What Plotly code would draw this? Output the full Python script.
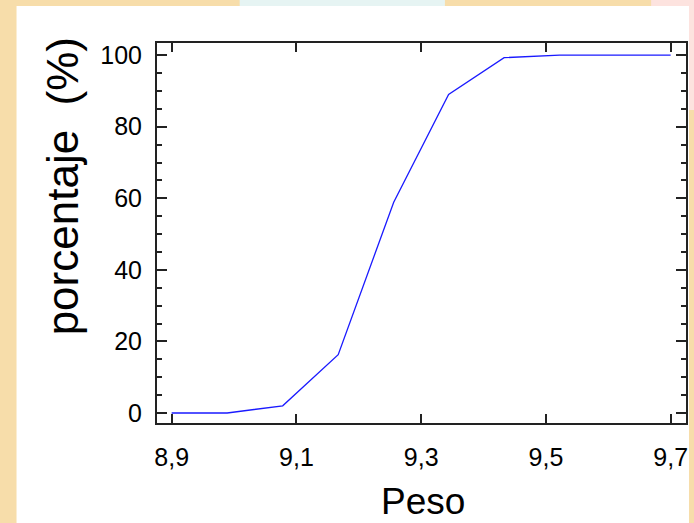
import plotly.graph_objects as go

# Data
peso = [8.9, 8.989, 9.078, 9.167, 9.256, 9.344, 9.433, 9.522, 9.611, 9.7]
porcentaje = [0, 0, 2.0, 16.3, 58.9, 89.0, 99.3, 100, 100, 100]
x_ticks = [8.9, 9.1, 9.3, 9.5, 9.7]
y_ticks = [0, 20, 40, 60, 80, 100]

REG = "Liberation Sans, Arial, sans-serif"

fig = go.Figure()
fig.add_trace(go.Scatter(x=peso, y=porcentaje, mode="lines",
                         line=dict(color="#1a1aff", width=1.3), showlegend=False,
                         hoverinfo="skip"))

L, R, T, B = 157, 688, 43, 423
W, H = 694, 523

def px2x(px):
    return (px - L) / (R - L)

def py2y(py):
    return (B - py) / (B - T)

shapes = [
    dict(type="rect", xref="paper", yref="paper", x0=px2x(240), x1=px2x(446), y0=py2y(6), y1=py2y(-2),
         fillcolor="#E6F4F3", line=dict(width=0), layer="below"),
    dict(type="rect", xref="paper", yref="paper", x0=px2x(653), x1=px2x(700), y0=py2y(110), y1=py2y(-2),
         fillcolor="#FDE3DF", line=dict(width=0), layer="below"),
    dict(type="rect", xref="paper", yref="paper", x0=px2x(16), x1=px2x(691), y0=py2y(530), y1=py2y(6),
         fillcolor="white", line=dict(width=0), layer="below"),
]

fig.update_layout(
    width=W, height=H,
    margin=dict(l=L, r=W - R, t=T, b=H - B),
    paper_bgcolor="#F7DDAA",
    plot_bgcolor="white",
    separators=",.",
    shapes=shapes,
    annotations=[
        dict(text="porcentaje  (%)", xref="paper", yref="paper", x=px2x(63), y=py2y(186),
             textangle=-90, showarrow=False, font=dict(family=REG, size=44, color="black"),
             xanchor="center", yanchor="middle"),
        dict(text="Peso", xref="paper", yref="paper", x=px2x(424), y=py2y(501),
             showarrow=False, font=dict(family=REG, size=37, color="black"),
             xanchor="center", yanchor="middle"),
    ],
)

fig.update_xaxes(
    range=[8.8765, 9.7246], tickvals=x_ticks, tickformat=".1f",
    ticks="inside", ticklen=9, tickwidth=1.5, tickcolor="#222",
    showline=True, linecolor="#222", linewidth=2, mirror="ticks",
    showgrid=False, zeroline=False,
    tickfont=dict(family=REG, size=25, color="black"), ticklabelstandoff=11,
)
fig.update_yaxes(
    range=[-2.8, 103.4], tickvals=y_ticks,
    ticks="inside", ticklen=10, tickwidth=1.5, tickcolor="#222",
    minor=dict(dtick=5, ticks="inside", ticklen=5, tickwidth=1.5, tickcolor="#222", showgrid=False),
    showline=True, linecolor="#222", linewidth=2, mirror="ticks",
    showgrid=False, zeroline=False,
    tickfont=dict(family=REG, size=25, color="black"), ticklabelstandoff=8,
)

fig.write_html("out.html", config={"displayModeBar": False},
               post_script="document.body.style.margin='0px';document.body.style.padding='0px';")
